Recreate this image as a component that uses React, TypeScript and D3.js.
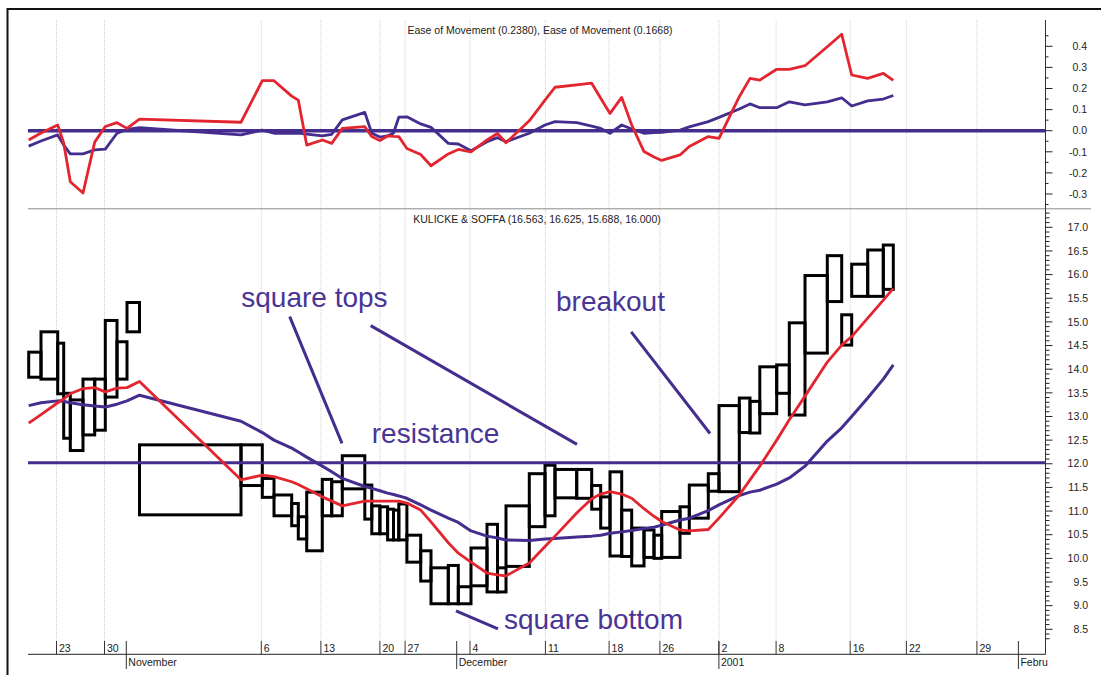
import React, { useEffect, useRef } from 'react';
import * as d3 from 'd3';

// Equivolume boxes: width = volume (scaled units), top = high, bottom = low
const volumes = [
  12.3, 16.7, 6.0, 6.6, 12.7, 11.7, 10.6, 11.7, 10.0, 12.5,
  101.5, 21.3, 11.7, 17.7, 6.6, 8.4, 15.6, 9.4, 10.6, 22.5,
  7.0, 8.1, 7.7, 5.9, 5.3, 8.1, 13.8, 10.3, 17.3, 10.0,
  12.7, 16.0, 10.5, 8.5, 23.3, 15.7, 10.0, 21.7, 15.0, 9.0,
  9.3, 11.7, 10.0, 12.3, 10.0, 7.7, 18.3, 9.3, 19.0, 10.7,
  20.3, 10.7, 9.8, 16.9, 12.6, 15.7, 22.3, 14.4, 10.0, 16.0,
  15.6, 10.0,
];
const highs = [
  14.36, 14.79, 14.55, 13.49, 13.35, 13.79, 13.79, 15.03, 14.58, 15.41,
  12.40, 12.40, 11.69, 11.34, 11.16, 10.88, 11.40, 11.67, 11.62, 12.17,
  11.55, 11.11, 11.09, 11.04, 11.02, 11.15, 10.49, 10.16, 9.80, 9.85,
  9.40, 10.22, 10.72, 9.80, 11.11, 11.79, 11.97, 11.88, 11.88, 11.54,
  11.30, 11.83, 11.02, 10.64, 10.60, 10.49, 10.99, 11.09, 11.55, 11.79,
  13.23, 13.39, 13.32, 14.05, 14.09, 14.98, 15.98, 16.40, 15.15, 16.22,
  16.52, 16.625,
];
const lows = [
  13.83, 13.79, 13.48, 12.54, 12.28, 12.61, 12.71, 13.41, 13.79, 14.79,
  10.92, 11.54, 11.29, 10.90, 10.69, 10.41, 10.16, 10.90, 10.90, 11.47,
  10.83, 10.52, 10.52, 10.39, 10.39, 10.39, 9.92, 9.52, 9.04, 9.04,
  9.04, 9.42, 9.29, 9.29, 9.83, 10.67, 10.90, 11.28, 11.27, 11.04,
  10.64, 10.05, 10.04, 9.84, 10.02, 10.00, 10.02, 10.53, 10.85, 11.42,
  11.41, 12.66, 12.65, 13.06, 13.49, 13.03, 14.34, 15.43, 14.51, 15.54,
  15.54, 15.688,
];

// moving averages, one value per box edge (first is the edge before box 1)
const maShort = [
  12.86, 13.04, 13.29, 13.37, 13.48, 13.59, 13.61, 13.52, 13.60, 13.61,
  13.74, 11.66, 11.76, 11.73, 11.62, 11.56, 11.47, 11.30, 11.21, 11.11,
  11.21, 11.21, 11.21, 11.21, 11.21, 11.21, 11.17, 11.02, 10.77, 10.33,
  10.11, 9.92, 9.69, 9.65, 9.63, 9.90, 10.25, 10.47, 10.96, 11.26,
  11.36, 11.41, 11.36, 11.27, 11.05, 10.89, 10.78, 10.60, 10.58, 10.61,
  10.85, 11.34, 11.66, 11.95, 12.50, 12.93, 13.43, 14.15, 14.51, 14.69,
  15.08, 15.46, 15.71,
];
const maLong = [
  13.23, 13.29, 13.33, 13.32, 13.29, 13.25, 13.22, 13.20, 13.26, 13.33,
  13.45, 12.90, 12.66, 12.50, 12.33, 12.25, 12.14, 11.95, 11.83, 11.69,
  11.52, 11.48, 11.43, 11.38, 11.35, 11.32, 11.27, 11.13, 11.02, 10.85,
  10.76, 10.58, 10.47, 10.43, 10.39, 10.38, 10.41, 10.42, 10.45, 10.47,
  10.49, 10.53, 10.56, 10.59, 10.63, 10.66, 10.70, 10.81, 10.85, 11.01,
  11.13, 11.33, 11.40, 11.44, 11.57, 11.70, 11.95, 12.48, 12.76, 13.00,
  13.39, 13.79, 14.09,
];

// Ease of Movement, two smoothings
const eomFast = [
  -0.044, -0.011, 0.027, -0.058, -0.242, -0.295, -0.054, 0.020, 0.038, 0.011,
  0.055, 0.040, 0.237, 0.237, 0.164, 0.145, -0.068, -0.044, -0.060, 0.011,
  0.019, -0.028, -0.047, -0.025, -0.027, -0.028, -0.084, -0.113, -0.166, -0.110,
  -0.089, -0.100, -0.044, -0.013, -0.057, 0.047, 0.145, 0.206, 0.217, 0.225,
  0.154, 0.082, 0.158, 0.027, -0.099, -0.125, -0.141, -0.115, -0.075, -0.028,
  -0.036, 0.161, 0.248, 0.240, 0.291, 0.291, 0.308, 0.398, 0.457, 0.264,
  0.248, 0.272, 0.238,
];
const eomSlow = [
  -0.073, -0.049, -0.020, -0.068, -0.110, -0.110, -0.091, -0.087, -0.012, 0.006,
  0.014, -0.020, 0.003, -0.012, -0.012, -0.012, -0.016, -0.025, -0.017, 0.051,
  0.087, -0.012, -0.030, -0.025, -0.011, 0.064, 0.066, 0.032, 0.016, -0.060,
  -0.063, -0.095, -0.052, -0.033, -0.052, -0.012, 0.027, 0.043, 0.038, 0.022,
  0.011, -0.012, 0.027, 0.008, -0.012, -0.009, -0.008, 0.003, 0.018, 0.043,
  0.063, 0.103, 0.127, 0.109, 0.109, 0.137, 0.122, 0.137, 0.156, 0.117,
  0.141, 0.150, 0.167,
];

const resistanceLevel = 12.02;

// date ticks, positioned in cumulative volume
const dayLabels = ['23', '30', '6', '13', '20', '27', '4', '11', '18', '26', '2', '8', '16', '22', '29'];
const dayPos = [27.8, 75.8, 232.6, 292.2, 351.2, 376.4, 441.3, 516.7, 580.4, 631.2, 690.2, 747.4, 821.5, 877.7, 948.2];
const monthLabels = ['November', 'December', '2001', 'Febru'];
const monthPos = [97.6, 428.0, 690.2, 989.7];
const axisEnd = 1016.8;

const priceLabels = d3.range(8.5, 17.01, 0.5);
const eomLabels = d3.range(-0.3, 0.41, 0.1);

const RED = '#e3252f';
const PURPLE = '#442d8e';
const FONT = '"Liberation Sans", Arial, Helvetica, sans-serif';

const App: React.FC = () => {
  const svgRef = useRef<SVGSVGElement>(null);

  useEffect(() => {
    if (!svgRef.current) return;
    const svg = d3.select(svgRef.current);
    svg.selectAll('*').remove();

    const left = 28.7;
    const right = 1045.5;
    const x = d3.scaleLinear().domain([0, axisEnd]).range([left, right]);
    const yP = d3.scaleLinear().domain([8.5, 17]).range([629.3, 227.3]);
    const yE = d3.scaleLinear().domain([-0.3, 0.4]).range([194.0, 46.3]);

    const edges = [0, ...d3.cumsum(volumes)];

    // outer frame
    svg.append('rect').attr('x', 7.5).attr('y', 9).attr('width', 1200).attr('height', 700)
      .attr('fill', 'none').attr('stroke', '#111').attr('stroke-width', 2);

    // grid
    svg.append('g').selectAll('line').data(dayPos).join('line')
      .attr('x1', d => x(d)).attr('x2', d => x(d))
      .attr('y1', 20).attr('y2', 641)
      .attr('stroke', '#cfcfcf').attr('stroke-width', 1).attr('stroke-dasharray', '1,1');

    // panel separator
    svg.append('line').attr('x1', 28).attr('x2', 1091).attr('y1', 208.8).attr('y2', 208.8)
      .attr('stroke', '#8a8a8a').attr('stroke-width', 1);

    // right axis
    svg.append('line').attr('x1', right).attr('x2', right).attr('y1', 20).attr('y2', 654.3)
      .attr('stroke', '#333').attr('stroke-width', 1);

    const priceMinor = d3.range(83, 174).map(v => v / 10);
    svg.append('g').selectAll('line').data(priceMinor).join('line')
      .attr('x1', right).attr('x2', d => right + (Math.round(d * 10) % 5 === 0 ? 7 : 4))
      .attr('y1', d => yP(d)).attr('y2', d => yP(d))
      .attr('stroke', '#222').attr('stroke-width', 1);
    svg.append('g').selectAll('text').data(priceLabels).join('text')
      .attr('x', 1088).attr('y', d => yP(d) + 3.7)
      .attr('text-anchor', 'end').attr('font-size', 10.5).attr('font-family', FONT).attr('fill', '#222')
      .text(d => d.toFixed(1));

    const eomMinor = d3.range(-7, 10).map(v => v * 0.05);
    svg.append('g').selectAll('line').data(eomMinor).join('line')
      .attr('x1', right).attr('x2', (d, i) => right + (i % 2 === 1 ? 7 : 3))
      .attr('y1', d => yE(d)).attr('y2', d => yE(d))
      .attr('stroke', '#222').attr('stroke-width', 1);
    svg.append('g').selectAll('text').data(eomLabels).join('text')
      .attr('x', 1087).attr('y', d => yE(d) + 3.7)
      .attr('text-anchor', 'end').attr('font-size', 10.5).attr('font-family', FONT).attr('fill', '#222')
      .text(d => (Math.abs(d) < 1e-9 ? 0 : d).toFixed(1));

    // bottom date axis
    svg.append('line').attr('x1', 28).attr('x2', right).attr('y1', 654.3).attr('y2', 654.3)
      .attr('stroke', '#222').attr('stroke-width', 1);
    const days = svg.append('g');
    dayLabels.forEach((lab, i) => {
      days.append('line').attr('x1', x(dayPos[i])).attr('x2', x(dayPos[i]))
        .attr('y1', 641).attr('y2', 654.3).attr('stroke', '#333').attr('stroke-width', 1);
      days.append('text').attr('x', x(dayPos[i]) + 2.5).attr('y', 651.5)
        .attr('font-size', 10.5).attr('font-family', FONT).attr('fill', '#222').text(lab);
    });
    monthLabels.forEach((lab, i) => {
      days.append('line').attr('x1', x(monthPos[i])).attr('x2', x(monthPos[i]))
        .attr('y1', 641).attr('y2', 669).attr('stroke', '#333').attr('stroke-width', 1);
      days.append('text').attr('x', x(monthPos[i]) + 2).attr('y', 665.5)
        .attr('font-size', 10.5).attr('font-family', FONT).attr('fill', '#222').text(lab);
    });

    // upper panel: Ease of Movement
    svg.append('text').attr('x', 540).attr('y', 34.3).attr('text-anchor', 'middle')
      .attr('font-size', 10.5).attr('font-family', FONT).attr('fill', '#222')
      .text('Ease of Movement (0.2380), Ease of Movement (0.1668)');

    const eomLine = d3.line<number>().x((_, i) => x(edges[i])).y(d => yE(d));
    svg.append('line').attr('x1', 28).attr('x2', right).attr('y1', yE(0)).attr('y2', yE(0))
      .attr('stroke', PURPLE).attr('stroke-width', 3.5);
    svg.append('path').datum(eomSlow).attr('d', eomLine)
      .attr('fill', 'none').attr('stroke', PURPLE).attr('stroke-width', 2.8).attr('stroke-linejoin', 'round');
    svg.append('path').datum(eomFast).attr('d', eomLine)
      .attr('fill', 'none').attr('stroke', RED).attr('stroke-width', 2.8).attr('stroke-linejoin', 'round');

    // lower panel: equivolume boxes
    svg.append('text').attr('x', 537).attr('y', 222.5).attr('text-anchor', 'middle')
      .attr('font-size', 10.5).attr('font-family', FONT).attr('fill', '#222')
      .text('KULICKE & SOFFA (16.563, 16.625, 15.688, 16.000)');

    svg.append('g').selectAll('rect').data(volumes).join('rect')
      .attr('x', (_, i) => x(edges[i]))
      .attr('width', (_, i) => x(edges[i + 1]) - x(edges[i]))
      .attr('y', (_, i) => yP(highs[i]))
      .attr('height', (_, i) => yP(lows[i]) - yP(highs[i]))
      .attr('fill', 'none').attr('stroke', '#000').attr('stroke-width', 3);

    svg.append('line').attr('x1', 28).attr('x2', right)
      .attr('y1', yP(resistanceLevel)).attr('y2', yP(resistanceLevel))
      .attr('stroke', PURPLE).attr('stroke-width', 3);

    const maLine = d3.line<number>().x((_, i) => x(edges[i])).y(d => yP(d));
    svg.append('path').datum(maLong).attr('d', maLine)
      .attr('fill', 'none').attr('stroke', PURPLE).attr('stroke-width', 3).attr('stroke-linejoin', 'round');
    svg.append('path').datum(maShort).attr('d', maLine)
      .attr('fill', 'none').attr('stroke', RED).attr('stroke-width', 2.8).attr('stroke-linejoin', 'round');

    // annotations, placed in (volume, price) coordinates
    const notes = [
      { text: 'square tops', v: 212.6, p: 15.32 },
      { text: 'resistance', v: 343.1, p: 12.43 },
      { text: 'breakout', v: 527.3, p: 15.23 },
      { text: 'square bottom', v: 475.3, p: 8.51 },
    ];
    svg.append('g').selectAll('text').data(notes).join('text')
      .attr('x', d => x(d.v)).attr('y', d => yP(d.p))
      .attr('font-size', 28).attr('font-family', FONT).attr('fill', '#4a3496')
      .text(d => d.text);

    const pointers = [
      [261.0, 15.11, 313.3, 12.43],
      [342.0, 14.92, 548.3, 12.41],
      [602.5, 14.79, 681.3, 12.64],
      [427.3, 8.89, 469.3, 8.51],
    ];
    svg.append('g').selectAll('line').data(pointers).join('line')
      .attr('x1', d => x(d[0])).attr('y1', d => yP(d[1]))
      .attr('x2', d => x(d[2])).attr('y2', d => yP(d[3]))
      .attr('stroke', PURPLE).attr('stroke-width', 3);
  }, []);

  return (
    <div style={{ position: 'absolute', left: 0, top: 0, width: 1101, height: 675, background: '#fff', overflow: 'hidden' }}>
      <svg ref={svgRef} width={1101} height={675} />
    </div>
  );
};

export default App;
